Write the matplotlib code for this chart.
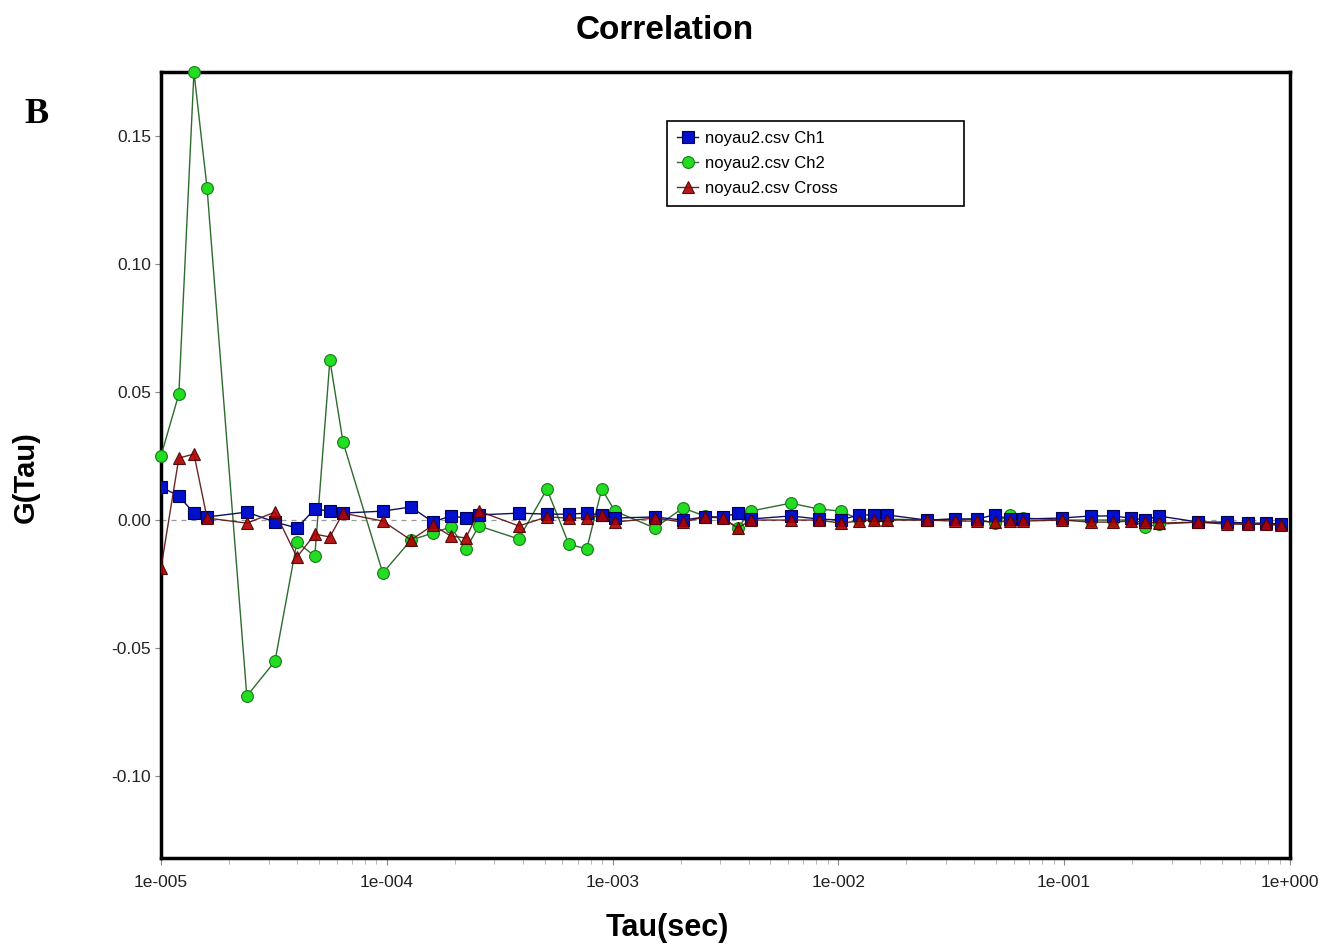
import matplotlib
matplotlib.use("Agg")
import matplotlib.pyplot as plt
import numpy as np
from matplotlib.ticker import FixedLocator, FuncFormatter, LogLocator, NullFormatter

tau = [1.0e-5, 1.2e-5, 1.4e-5, 1.6e-5, 2.4e-5, 3.2e-5, 4.0e-5, 4.8e-5, 5.6e-5, 6.4e-5,
       9.6e-5, 1.28e-4, 1.6e-4, 1.92e-4, 2.24e-4, 2.56e-4, 3.84e-4, 5.12e-4, 6.4e-4, 7.68e-4,
       8.96e-4, 1.024e-3, 1.536e-3, 2.048e-3, 2.56e-3, 3.072e-3, 3.584e-3, 4.096e-3, 6.144e-3, 8.192e-3,
       1.024e-2, 1.229e-2, 1.434e-2, 1.638e-2, 2.458e-2, 3.277e-2, 4.096e-2, 4.915e-2, 5.734e-2, 6.554e-2,
       9.83e-2, 0.131, 0.164, 0.197, 0.229, 0.262, 0.393, 0.524, 0.655, 0.786, 0.917]

ch1 = [0.0129, 0.0094, 0.0027, 0.0012, 0.0031, -0.0008, -0.0031, 0.0043, 0.0035, 0.0027,
       0.0035, 0.0051, -0.0008, 0.0016, 0.0008, 0.0020, 0.0027, 0.0023, 0.0023, 0.0027,
       0.0020, 0.0008, 0.0012, 0.0, 0.0012, 0.0012, 0.0027, 0.0004, 0.0016, 0.0004,
       0.0, 0.0020, 0.0020, 0.0020, 0.0, 0.0004, 0.0004, 0.0020, 0.0004, 0.0004,
       0.0008, 0.0016, 0.0016, 0.0008, 0.0, 0.0016, -0.0008, -0.0008, -0.0012, -0.0012, -0.0016]

ch2 = [0.0250, 0.0492, 0.175, 0.1297, -0.0688, -0.0551, -0.0086, -0.0141, 0.0625, 0.0305,
       -0.0207, -0.0078, -0.0051, -0.0027, -0.0113, -0.0023, -0.0074, 0.0121, -0.0094, -0.0113,
       0.0121, 0.0035, -0.0031, 0.0047, 0.0016, 0.0008, -0.0031, 0.0035, 0.0066, 0.0043,
       0.0035, 0.0004, 0.0004, 0.0004, 0.0, 0.0004, 0.0004, -0.0012, 0.0020, 0.0008,
       0.0, 0.0, 0.0, 0.0, -0.0027, -0.0016, -0.0008, -0.0012, -0.0016, -0.0016, -0.0020]

cross = [-0.0188, 0.0242, 0.0258, 0.0008, -0.0012, 0.0031, -0.0145, -0.0055, -0.0066, 0.0027,
         -0.0004, -0.0078, -0.0020, -0.0062, -0.0070, 0.0035, -0.0023, 0.0012, 0.0008, 0.0008,
         0.0020, -0.0008, 0.0008, -0.0008, 0.0012, 0.0008, -0.0031, 0.0, 0.0, 0.0,
         -0.0012, -0.0004, 0.0, 0.0, 0.0, -0.0004, -0.0004, -0.0008, -0.0004, -0.0004,
         0.0, -0.0008, -0.0008, -0.0004, -0.0008, -0.0012, -0.0008, -0.0016, -0.0016, -0.0016, -0.0020]

y_ticks = [0.15, 0.10, 0.05, 0.00, -0.05, -0.10]

plt.rcParams['font.family'] = ['Liberation Sans', 'DejaVu Sans']

fig = plt.figure(figsize=(13.38, 9.49), dpi=100)
ax = fig.add_axes([0.1203, 0.0959, 0.8438, 0.8282])

ax.axhline(0, color='#999999', lw=0.9, ls=(0, (4, 4)), zorder=1)

ax.plot(tau, ch2, color='#2e6b2e', lw=1, marker='o', ms=8.5, mfc='#22dd22',
        mec='#1a7a1a', mew=0.8, label='noyau2.csv Ch2', zorder=3, clip_on=False)
ax.plot(tau, ch1, color='#101060', lw=1, marker='s', ms=8.5, mfc='#0010cc',
        mec='#000050', mew=0.8, label='noyau2.csv Ch1', zorder=4)
ax.plot(tau, cross, color='#5a1010', lw=1, marker='^', ms=8.5, mfc='#b00000',
        mec='#4a0000', mew=0.8, label='noyau2.csv Cross', zorder=5, alpha=0.9)

ax.set_xscale('log')
ax.set_xlim(1e-5, 1.0)
ax.set_ylim(-0.132, 0.175)
ax.yaxis.set_major_locator(FixedLocator(y_ticks))
ax.yaxis.set_major_formatter(FuncFormatter(lambda v, p: f"{v:.2f}"))
ax.xaxis.set_major_locator(LogLocator(base=10, numticks=10))
ax.xaxis.set_minor_locator(LogLocator(base=10, subs=np.arange(2, 10), numticks=20))
ax.xaxis.set_minor_formatter(NullFormatter())
ax.xaxis.set_major_formatter(FuncFormatter(lambda v, p: f"1e{int(round(np.log10(v))):+04d}"))

ax.tick_params(axis='y', which='major', direction='out', length=4, width=0.8,
               color='#888888', labelsize=12.5, labelcolor='#222222', pad=3)
ax.tick_params(axis='x', which='major', direction='out', length=5, width=0.8,
               color='#888888', labelsize=12.5, labelcolor='#222222', pad=7)
ax.tick_params(axis='x', which='minor', direction='out', length=4, width=0.6, color='#aaaaaa')

for s in ax.spines.values():
    s.set_linewidth(2.5)
    s.set_color('black')

handles, labels = ax.get_legend_handles_labels()
order = [1, 0, 2]
leg = ax.legend([handles[i] for i in order], [labels[i] for i in order],
                loc='upper left', bbox_to_anchor=(0.448, 0.938, 0.263, 0.0), mode='expand',
                fontsize=12, frameon=True, fancybox=False, framealpha=1, edgecolor='black',
                handlelength=1.3, handletextpad=0.4, borderpad=0.6, labelspacing=0.6,
                borderaxespad=0)
leg.get_frame().set_linewidth(1.2)

fig.text(0.497, 0.968, 'Correlation', ha='center', va='center', fontsize=24, fontweight='bold')
fig.text(0.4985, 0.022, 'Tau(sec)', ha='center', va='center', fontsize=22, fontweight='bold')
fig.text(0.019, 0.497, 'G(Tau)', rotation=90, ha='center', va='center', fontsize=21,
         fontweight='bold')
fig.text(0.027, 0.879, 'B', ha='center', va='center', fontsize=26, fontweight='bold',
         family=['Liberation Serif', 'DejaVu Serif'])

fig.savefig('out.png', dpi=100)
